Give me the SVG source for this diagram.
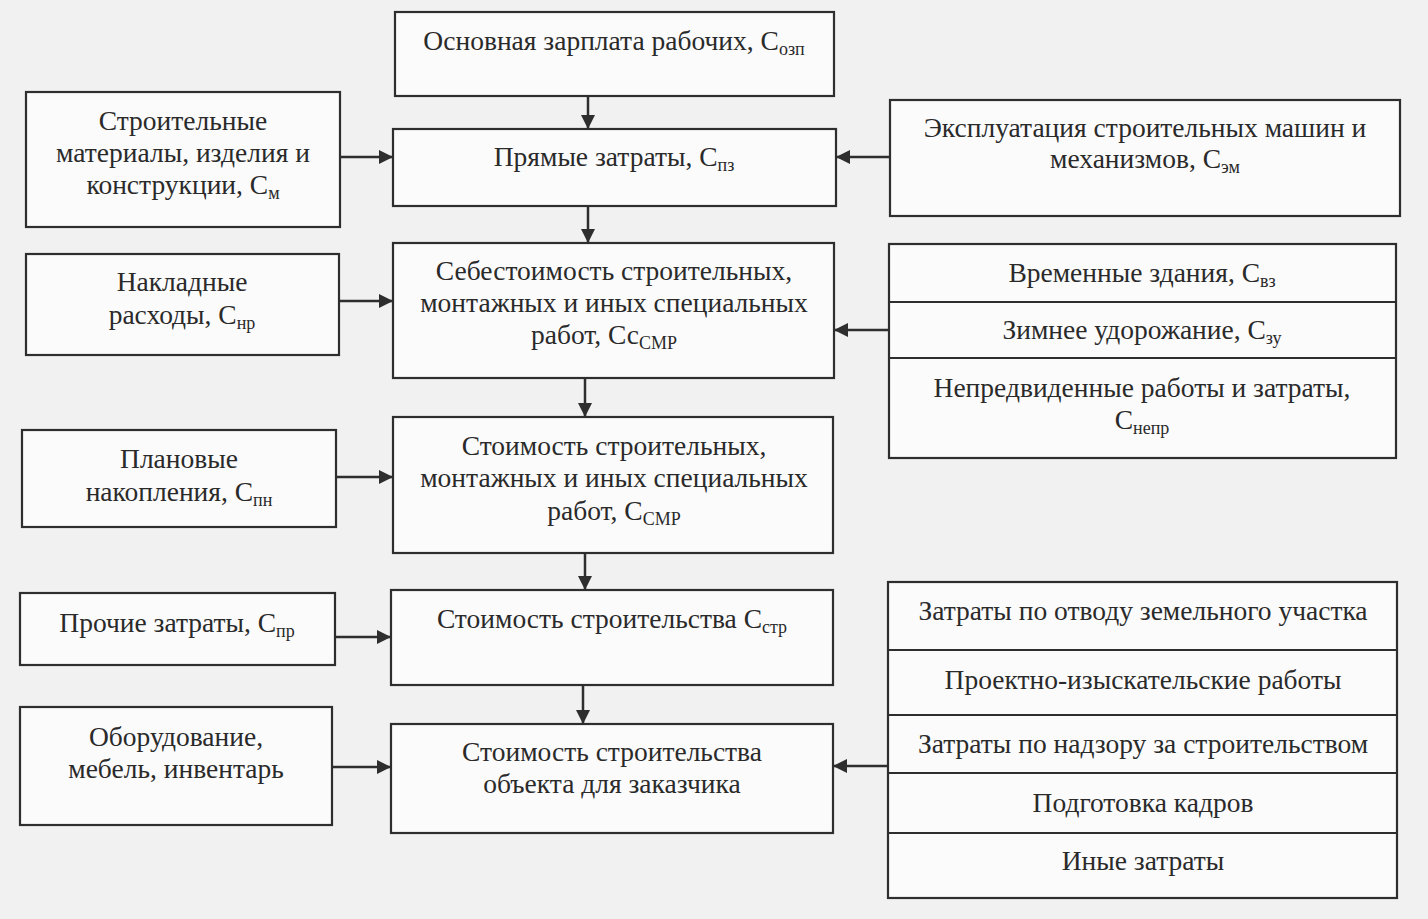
<svg xmlns="http://www.w3.org/2000/svg" width="1428" height="919" viewBox="0 0 1428 919">
<defs>
<style>
.bx{fill:#fbfbfb;stroke:#2e2e2e;stroke-width:2.2}
.dv{stroke:#2e2e2e;stroke-width:2.2;fill:none}
.t{font-family:"Liberation Serif","DejaVu Serif",serif;font-size:27.5px;fill:#2a2a2a;text-anchor:middle}
.s{font-size:18px}
.c{stroke:#2e2e2e;stroke-width:2.5;fill:none}
</style>
<marker id="ah" viewBox="0 0 14 14" refX="13" refY="7" markerWidth="14" markerHeight="14" markerUnits="userSpaceOnUse" orient="auto">
<path d="M0,0 L14,7 L0,14 z" fill="#2e2e2e"/>
</marker>
</defs>
<rect x="0" y="0" width="1428" height="919" fill="#f1f1f1"/>

<g id="n-ozp">
<rect class="bx" x="395" y="12" width="439" height="84"/>
<text class="t" x="614" y="50">Основная зарплата рабочих, С<tspan class="s" dy="5">озп</tspan></text>
</g>

<g id="n-pz">
<rect class="bx" x="393" y="129" width="443" height="77"/>
<text class="t" x="614" y="166">Прямые затраты, С<tspan class="s" dy="5">пз</tspan></text>
</g>

<g id="n-m">
<rect class="bx" x="26" y="92" width="314" height="135"/>
<text class="t" x="183" y="130">Строительные</text>
<text class="t" x="183" y="162">материалы, изделия и</text>
<text class="t" x="183" y="194">конструкции, С<tspan class="s" dy="5">м</tspan></text>
</g>

<g id="n-em">
<rect class="bx" x="890" y="100" width="510" height="116"/>
<text class="t" x="1145" y="137">Эксплуатация строительных машин и</text>
<text class="t" x="1145" y="168">механизмов, С<tspan class="s" dy="5">эм</tspan></text>
</g>

<g id="n-ss">
<rect class="bx" x="393" y="243" width="441" height="135"/>
<text class="t" x="614" y="280">Себестоимость строительных,</text>
<text class="t" x="614" y="312">монтажных и иных специальных</text>
<text class="t" x="604" y="344">работ, Сс<tspan class="s" dy="5">СМР</tspan></text>
</g>

<g id="n-nr">
<rect class="bx" x="26" y="254" width="313" height="101"/>
<text class="t" x="182" y="291">Накладные</text>
<text class="t" x="182" y="324">расходы, С<tspan class="s" dy="5">нр</tspan></text>
</g>

<g id="n-group1">
<rect class="bx" x="889" y="244" width="507" height="214"/>
<line class="dv" x1="889" y1="302" x2="1396" y2="302"/>
<line class="dv" x1="889" y1="358" x2="1396" y2="358"/>
<text class="t" x="1142" y="282">Временные здания, С<tspan class="s" dy="5">вз</tspan></text>
<text class="t" x="1142" y="339">Зимнее удорожание, С<tspan class="s" dy="5">зу</tspan></text>
<text class="t" x="1142" y="397">Непредвиденные работы и затраты,</text>
<text class="t" x="1142" y="429">С<tspan class="s" dy="5">непр</tspan></text>
</g>

<g id="n-smr">
<rect class="bx" x="393" y="417" width="440" height="136"/>
<text class="t" x="614" y="455">Стоимость строительных,</text>
<text class="t" x="614" y="487">монтажных и иных специальных</text>
<text class="t" x="614" y="520">работ, С<tspan class="s" dy="5">СМР</tspan></text>
</g>

<g id="n-pn">
<rect class="bx" x="22" y="430" width="314" height="97"/>
<text class="t" x="179" y="468">Плановые</text>
<text class="t" x="179" y="501">накопления, С<tspan class="s" dy="5">пн</tspan></text>
</g>

<g id="n-str">
<rect class="bx" x="391" y="590" width="442" height="95"/>
<text class="t" x="612" y="628">Стоимость строительства С<tspan class="s" dy="5">стр</tspan></text>
</g>

<g id="n-pr">
<rect class="bx" x="20" y="593" width="315" height="72"/>
<text class="t" x="177" y="632">Прочие затраты, С<tspan class="s" dy="5">пр</tspan></text>
</g>

<g id="n-obj">
<rect class="bx" x="391" y="724" width="442" height="109"/>
<text class="t" x="612" y="761">Стоимость строительства</text>
<text class="t" x="612" y="793">объекта для заказчика</text>
</g>

<g id="n-ob">
<rect class="bx" x="20" y="707" width="312" height="118"/>
<text class="t" x="176" y="746">Оборудование,</text>
<text class="t" x="176" y="778">мебель, инвентарь</text>
</g>

<g id="n-group2">
<rect class="bx" x="888" y="582" width="509" height="316"/>
<line class="dv" x1="888" y1="650" x2="1397" y2="650"/>
<line class="dv" x1="888" y1="715" x2="1397" y2="715"/>
<line class="dv" x1="888" y1="773" x2="1397" y2="773"/>
<line class="dv" x1="888" y1="833" x2="1397" y2="833"/>
<text class="t" x="1143" y="620">Затраты по отводу земельного участка</text>
<text class="t" x="1143" y="689">Проектно-изыскательские работы</text>
<text class="t" x="1143" y="753">Затраты по надзору за строительством</text>
<text class="t" x="1143" y="812">Подготовка кадров</text>
<text class="t" x="1143" y="870">Иные затраты</text>
</g>

<g id="connectors">
<line class="c" x1="588" y1="96" x2="588" y2="128" marker-end="url(#ah)"/>
<line class="c" x1="588" y1="206" x2="588" y2="242" marker-end="url(#ah)"/>
<line class="c" x1="585" y1="378" x2="585" y2="416" marker-end="url(#ah)"/>
<line class="c" x1="585" y1="553" x2="585" y2="589" marker-end="url(#ah)"/>
<line class="c" x1="583" y1="685" x2="583" y2="723" marker-end="url(#ah)"/>
<line class="c" x1="340" y1="157" x2="392" y2="157" marker-end="url(#ah)"/>
<line class="c" x1="890" y1="157" x2="837" y2="157" marker-end="url(#ah)"/>
<line class="c" x1="339" y1="301" x2="392" y2="301" marker-end="url(#ah)"/>
<line class="c" x1="889" y1="330" x2="835" y2="330" marker-end="url(#ah)"/>
<line class="c" x1="336" y1="477" x2="392" y2="477" marker-end="url(#ah)"/>
<line class="c" x1="335" y1="637" x2="390" y2="637" marker-end="url(#ah)"/>
<line class="c" x1="332" y1="767" x2="390" y2="767" marker-end="url(#ah)"/>
<line class="c" x1="888" y1="766" x2="834" y2="766" marker-end="url(#ah)"/>
</g>
</svg>
